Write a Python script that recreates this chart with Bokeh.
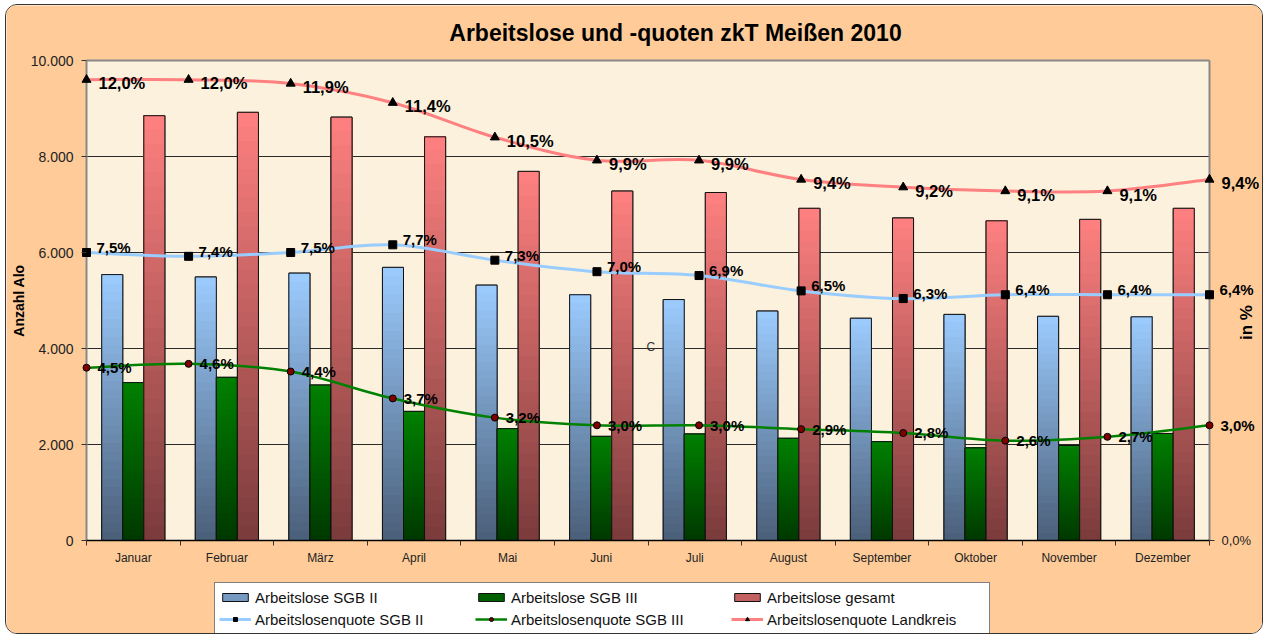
import numpy as np
from bokeh.plotting import figure
from bokeh.models import (Range1d, LinearAxis, FixedTicker, Legend, LegendItem, Label,
                          LabelSet, ColumnDataSource, BoxAnnotation)
from bokeh.core.properties import value
from bokeh.embed import file_html
from bokeh.resources import INLINE

# ---------------- data ----------------
months = ["Januar", "Februar", "März", "April", "Mai", "Juni", "Juli",
          "August", "September", "Oktober", "November", "Dezember"]
alo_sgb2 = [5540, 5490, 5570, 5690, 5320, 5120, 5020, 4780, 4630, 4710, 4670, 4660]
alo_sgb3 = [3290, 3400, 3240, 2690, 2330, 2170, 2220, 2130, 2060, 1930, 1980, 2230]
alo_gesamt = [8850, 8920, 8820, 8410, 7690, 7280, 7250, 6920, 6720, 6660, 6690, 6920]
quote_sgb2 = [7.5, 7.4, 7.5, 7.7, 7.3, 7.0, 6.9, 6.5, 6.3, 6.4, 6.4, 6.4]
quote_sgb3 = [4.5, 4.6, 4.4, 3.7, 3.2, 3.0, 3.0, 2.9, 2.8, 2.6, 2.7, 3.0]
quote_landkreis = [12.0, 12.0, 11.9, 11.4, 10.5, 9.9, 9.9, 9.4, 9.2, 9.1, 9.1, 9.4]
left_ticks = [0, 2000, 4000, 6000, 8000, 10000]
pct_max = 12.5

FONT = "Liberation Sans"
PEACH = "#FFCC99"
PAPER = "#FCF1DC"

# ---------------- layout (page pixels) ----------------
W, H = 1258, 630          # canvas size
CX0, CY0 = 6, 5           # canvas top-left on the page (margin + border)
PL, PR, PT, PB = 86, 1209, 60, 540   # plot area on the page

n = len(months)
ymax = left_ticks[-1]
kx = (PR - PL) / n
ky = (PB - PT) / ymax
kp = (PB - PT) / pct_max
x_range = Range1d(-(PL - CX0) / kx, n + (CX0 + W - PR) / kx)
y_range = Range1d(-(CY0 + H - PB) / ky, ymax + (PT - CY0) / ky)
pct_range = Range1d(-(CY0 + H - PB) / kp, pct_max + (PT - CY0) / kp)

def sx(px):   # page x -> frame screen x
    return px - CX0

def sy(py):   # page y -> frame screen y (from bottom)
    return CY0 + H - py

p = figure(width=W, height=H, title=None, x_range=x_range, y_range=y_range,
           output_backend="svg", toolbar_location=None,
           min_border_left=0, min_border_right=0, min_border_top=0, min_border_bottom=0,
           background_fill_color=PEACH, border_fill_color=PEACH, outline_line_color=None)
p.styles = {"border": "1px solid #333333", "border-radius": "12px", "overflow": "hidden",
            "margin-left": "5px", "margin-top": "4px"}
p.extra_y_ranges = {"pct": pct_range}
p.xgrid.visible = False
p.ygrid.visible = False

# plot area background
p.add_layout(BoxAnnotation(left=0, right=n, bottom=0, top=ymax, fill_color=PAPER,
                           fill_alpha=1, line_color=None, level="underlay"))

# grid lines and plot area border
inner = left_ticks[1:-1]
p.segment(x0=[0] * len(inner), x1=[n] * len(inner), y0=inner, y1=inner,
          line_color="#2a2a2a", line_width=1)
p.segment(x0=[0, 0, n], x1=[n, 0, n], y0=[ymax, 0, 0], y1=[ymax, ymax, ymax],
          line_color="#888888", line_width=2)

# ---------------- gradient bars ----------------
def hex2rgb(h):
    return tuple(int(h[i:i + 2], 16) for i in (1, 3, 5))

def mix(c0, c1, t):
    a, b = hex2rgb(c0), hex2rgb(c1)
    return "#%02x%02x%02x" % tuple(int(round(a[k] + (b[k] - a[k]) * t)) for k in range(3))

NB = 30
bw = 0.225
centers = np.arange(n) + 0.5

def gradient_bar(offset, vals, dark, light, label):
    xs = centers + offset
    base = p.vbar(x=xs, width=bw, top=vals, bottom=0, fill_color=mix(dark, light, 0.55),
                  line_color="#111111", line_width=1)
    d = dict(left=[], right=[], bottom=[], top=[], color=[])
    for x, v in zip(xs, vals):
        for j in range(NB):
            d["left"].append(x - bw / 2)
            d["right"].append(x + bw / 2)
            d["bottom"].append(v * j / NB)
            d["top"].append(v)
            d["color"].append(mix(dark, light, (j + 0.5) / NB))
    p.quad(left="left", right="right", bottom="bottom", top="top", fill_color="color",
           line_color=None, source=ColumnDataSource(d))
    p.vbar(x=xs, width=bw, top=vals, bottom=0, fill_color=None,
           line_color="#111111", line_width=1)
    return LegendItem(label=label, renderers=[base])

it_b1 = gradient_bar(-bw, alo_sgb2, "#4A5E78", "#9CCCFF", "Arbeitslose SGB II")
it_b2 = gradient_bar(0, alo_sgb3, "#003800", "#008000", "Arbeitslose SGB III")
it_b3 = gradient_bar(bw, alo_gesamt, "#7A3B3B", "#FF8080", "Arbeitslose gesamt")

# baseline
p.segment(x0=[0], x1=[n], y0=[0], y1=[0], line_color="black", line_width=1.5)

# ---------------- smooth lines ----------------
xl = np.arange(n) * n / (n - 1)

def smooth(xs, ys):
    P = list(zip(xs, ys))
    m = len(P)
    d = dict(x0=[], y0=[], x1=[], y1=[], cx0=[], cy0=[], cx1=[], cy1=[])
    for i in range(m - 1):
        p0 = P[max(i - 1, 0)]
        p1 = P[i]
        p2 = P[i + 1]
        p3 = P[min(i + 2, m - 1)]
        d["x0"].append(p1[0]); d["y0"].append(p1[1])
        d["x1"].append(p2[0]); d["y1"].append(p2[1])
        d["cx0"].append(p1[0] + (p2[0] - p0[0]) / 6); d["cy0"].append(p1[1] + (p2[1] - p0[1]) / 6)
        d["cx1"].append(p2[0] - (p3[0] - p1[0]) / 6); d["cy1"].append(p2[1] - (p3[1] - p1[1]) / 6)
    return ColumnDataSource(d)

def fmt(v):
    return ("%.1f" % v).replace(".", ",") + "%"

def quote_line(vals, color, lw, marker, msize, mfill, label, fsize, xoff, yoff):
    ln = p.bezier(x0="x0", y0="y0", x1="x1", y1="y1", cx0="cx0", cy0="cy0", cx1="cx1", cy1="cy1",
                  source=smooth(xl, vals), line_color=color, line_width=lw, y_range_name="pct")
    sc = p.scatter(xl, vals, marker=marker, size=msize, fill_color=mfill, line_color="black",
                   line_width=1, y_range_name="pct")
    src = ColumnDataSource(dict(x=xl, y=vals, t=[fmt(v) for v in vals]))
    p.add_layout(LabelSet(x="x", y="y", text="t", source=src, y_range_name="pct",
                          x_offset=xoff, y_offset=yoff, text_font=value(FONT),
                          text_font_style="bold", text_font_size=fsize, text_color="black",
                          text_baseline="middle", text_align="left"))
    return LegendItem(label=label, renderers=[ln, sc])

it_l1 = quote_line(quote_sgb2, "#99CCFF", 3, "square", 8, "black",
                   "Arbeitslosenquote SGB II", "15px", 10, 5)
it_l2 = quote_line(quote_sgb3, "#008000", 2.5, "circle", 7, "#800000",
                   "Arbeitslosenquote SGB III", "15px", 11, 0)
it_l3 = quote_line(quote_landkreis, "#FF8080", 3, "triangle", 9, "black",
                   "Arbeitslosenquote Landkreis", "16.5px", 12, -3.5)

# ---------------- axes ----------------
xa = p.xaxis[0]
xa.fixed_location = 0
xa.ticker = FixedTicker(ticks=list(centers), minor_ticks=list(range(n + 1)))
xa.major_label_overrides = {float(c): m for c, m in zip(centers, months)}
xa.axis_line_color = None
xa.major_tick_line_color = None
xa.major_tick_out = 0
xa.major_tick_in = 0
xa.minor_tick_line_color = "#333333"
xa.minor_tick_in = 0
xa.minor_tick_out = 5
xa.major_label_standoff = 5
xa.major_label_text_font = FONT
xa.major_label_text_font_size = "12px"
xa.major_label_text_color = "#222222"

ya = p.yaxis[0]
ya.fixed_location = 0
ya.ticker = FixedTicker(ticks=left_ticks, minor_ticks=[])
ya.major_label_overrides = {t: ("{:,}".format(t)).replace(",", ".") for t in left_ticks}
ya.axis_line_color = None
ya.major_tick_line_color = "#333333"
ya.major_tick_in = 0
ya.major_tick_out = 5
ya.major_label_standoff = 8
ya.major_label_text_font = FONT
ya.major_label_text_font_size = "14px"
ya.major_label_text_color = "#222222"

ra = LinearAxis(y_range_name="pct", fixed_location=n,
                ticker=FixedTicker(ticks=[0], minor_ticks=[]))
ra.major_label_overrides = {0: "0,0%"}
ra.axis_line_color = None
ra.major_tick_line_color = "#333333"
ra.major_tick_in = 0
ra.major_tick_out = 5
ra.major_label_standoff = 7
ra.major_label_text_font = FONT
ra.major_label_text_font_size = "13px"
ra.major_label_text_color = "#222222"
p.add_layout(ra, "right")

# ---------------- texts ----------------
p.add_layout(Label(x=sx(675), y=sy(32), x_units="screen", y_units="screen",
                   text="Arbeitslose und -quoten zkT Meißen 2010", text_font=FONT,
                   text_font_style="bold", text_font_size="23px", text_color="black",
                   text_align="center", text_baseline="middle"))
p.add_layout(Label(x=sx(18), y=sy(300), x_units="screen", y_units="screen", text="Anzahl Alo",
                   angle=np.pi / 2, text_font=FONT, text_font_style="bold",
                   text_font_size="14px", text_color="black",
                   text_align="center", text_baseline="middle"))
p.add_layout(Label(x=sx(1246), y=sy(322), x_units="screen", y_units="screen", text="in %",
                   angle=np.pi / 2, text_font=FONT, text_font_style="bold",
                   text_font_size="17px", text_color="black",
                   text_align="center", text_baseline="middle"))
p.add_layout(Label(x=6.03, y=4040, text="C", text_font=FONT, text_font_size="12px",
                   text_color="#333333", text_align="center", text_baseline="middle"))

# ---------------- legend ----------------
legend = Legend(items=[it_b1, it_b2, it_b3, it_l1, it_l2, it_l3],
                location=(sx(214), sy(634)), orientation="horizontal", ncols=3,
                label_text_font=FONT, label_text_font_size="15px", label_text_color="#111111",
                label_height=20, label_width=218, glyph_width=32, glyph_height=10,
                label_standoff=4, spacing=2, padding=4, margin=0,
                border_line_color="black", border_line_width=1,
                background_fill_color="white", background_fill_alpha=1)
p.add_layout(legend, "center")

open("out.html", "w").write(file_html(p, INLINE))
